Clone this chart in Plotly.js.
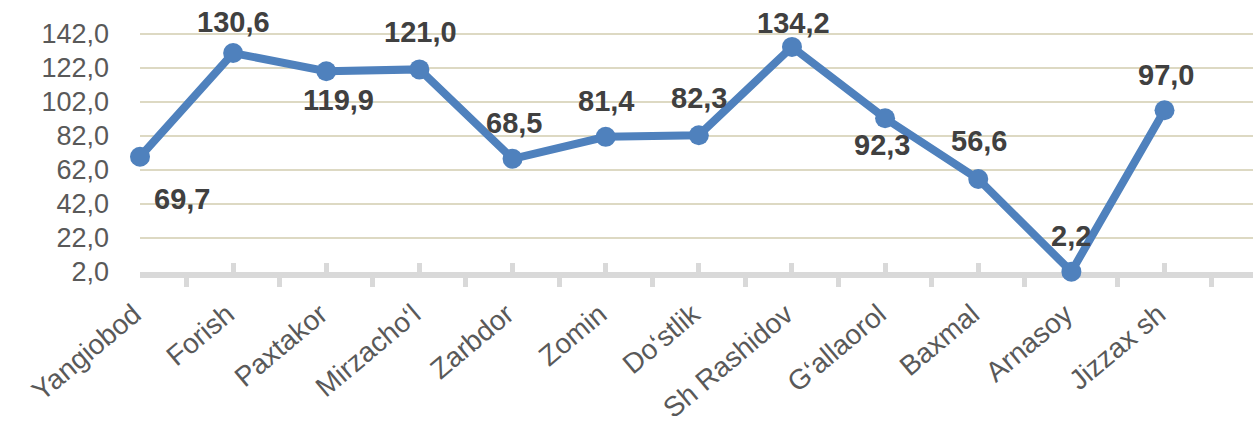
<!DOCTYPE html>
<html>
<head>
<meta charset="utf-8">
<script src="https://cdn.plot.ly/plotly-3.0.1.min.js"></script>
<style>html,body{margin:0;padding:0;background:#fff;}#chart{width:1253px;height:432px;}</style>
</head>
<body>
<div id="chart"></div>
<script>
const categories = ["Yangiobod","Forish","Paxtakor","Mirzacho\u2018l","Zarbdor","Zomin","Do\u2018stlik","Sh Rashidov","G\u2018allaorol","Baxmal","Arnasoy","Jizzax sh"];
const values = [69.7,130.6,119.9,121.0,68.5,81.4,82.3,134.2,92.3,56.6,2.2,97.0];
const yTicks = [2,22,42,62,82,102,122,142];

// label offsets in pixels (style only): [dx, dy up]
const labelOffsets = [[42,-44],[0,29],[12,-31],[1,35],[1,34],[0,34],[0,35],[2,22],[-3,-29],[1,36],[0,34],[1,33]];

const xIdx = categories.map((c,i)=>i);
const fmt = v => v.toFixed(1).replace('.', ',');

const annotations = values.map((v,i)=>({
  x: xIdx[i], y: v, xref:'x', yref:'y', text: fmt(v), showarrow:false,
  xshift: labelOffsets[i][0], yshift: labelOffsets[i][1] + 2,
  font:{family:'Liberation Sans, Arial, sans-serif', size:29, color:'#404040', weight:'bold'},
  xanchor:'center', yanchor:'middle'
}));

const trace = {
  x: xIdx, y: values, type:'scatter', mode:'lines+markers',
  line:{color:'#4F81BD', width:8},
  marker:{color:'#4F81BD', size:20},
  cliponaxis:false, hoverinfo:'none'
};

const layout = {
  width:1253, height:432,
  margin:{l:140, r:0, t:20, b:160, pad:0},
  paper_bgcolor:'#fff', plot_bgcolor:'#fff',
  showlegend:false,
  separators:',.',
  xaxis:{
    type:'linear', range:[0, 11.95], fixedrange:true,
    tickvals: xIdx, ticktext: categories, tickangle:-40,
    tickfont:{family:'Liberation Sans, Arial, sans-serif', size:28, color:'#595959'},
    showgrid:false, zeroline:false, layer:'below traces',
    showline:true, linecolor:'#d9d9d9', linewidth:6,
    ticks:'inside', ticklen:9, tickwidth:5, tickcolor:'#d9d9d9',
    minor:{tickvals: xIdx.map(i=>i+0.5), ticks:'outside', ticklen:9, tickwidth:5, tickcolor:'#d9d9d9', showgrid:false},
    ticklabelstandoff: 9, ticklabelshift:-6, automargin:false
  },
  yaxis:{
    range:[2,150], fixedrange:true,
    tickvals: yTicks, tickformat:'.1f',
    tickfont:{family:'Liberation Sans, Arial, sans-serif', size:27, color:'#595959'},
    showgrid:true, gridcolor:'#ddd9c3', gridwidth:2, layer:'below traces',
    zeroline:false, showline:false, ticks:'',
    ticklabelstandoff: 30, automargin:false
  },
  annotations: annotations
};

Plotly.newPlot('chart', [trace], layout, {staticPlot:true, displayModeBar:false});
</script>
</body>
</html>
